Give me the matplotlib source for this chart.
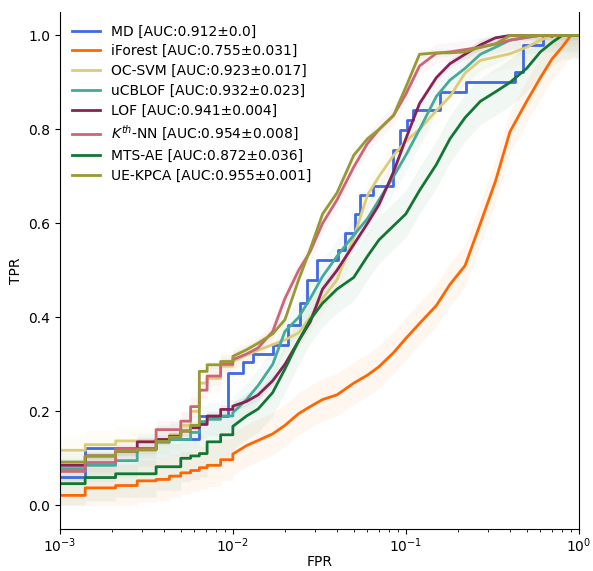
import matplotlib.pyplot as plt
import numpy as np

# shared FPR grid for the averaged curves
fpr_grid = [0.001, 0.0014, 0.0021, 0.0028, 0.0036, 0.0043, 0.005, 0.0057, 0.0064, 0.0071,
            0.0085, 0.01, 0.012, 0.014, 0.017, 0.02, 0.024, 0.028, 0.033, 0.04,
            0.05, 0.06, 0.07, 0.085, 0.1, 0.12, 0.15, 0.18, 0.22, 0.27,
            0.33, 0.4, 0.5, 0.6, 0.7, 0.8, 0.9, 1.0]

tpr_iforest = [0.021, 0.037, 0.042, 0.052, 0.055, 0.062, 0.069, 0.074, 0.08, 0.085,
               0.097, 0.109, 0.127, 0.138, 0.152, 0.17, 0.195, 0.21, 0.225, 0.235,
               0.26, 0.277, 0.295, 0.325, 0.355, 0.387, 0.425, 0.47, 0.51, 0.60,
               0.69, 0.795, 0.86, 0.91, 0.95, 0.975, 1.0, 1.0]
tpr_ocsvm = [0.117, 0.129, 0.137, 0.137, 0.14, 0.15, 0.17, 0.20, 0.26, 0.27,
             0.296, 0.306, 0.32, 0.33, 0.342, 0.352, 0.367, 0.40, 0.44, 0.48,
             0.57, 0.66, 0.70, 0.745, 0.775, 0.80, 0.84, 0.87, 0.92, 0.947,
             0.954, 0.961, 0.975, 0.99, 1.0, 1.0, 1.0, 1.0]
tpr_ucblof = [0.078, 0.085, 0.095, 0.118, 0.134, 0.14, 0.14, 0.155, 0.178, 0.183,
              0.19, 0.197, 0.225, 0.255, 0.30, 0.37, 0.40, 0.44, 0.487, 0.53,
              0.575, 0.61, 0.65, 0.70, 0.745, 0.80, 0.87, 0.905, 0.93, 0.96,
              0.975, 0.99, 0.996, 1.0, 1.0, 1.0, 1.0, 1.0]
tpr_lof = [0.085, 0.105, 0.115, 0.135, 0.14, 0.147, 0.158, 0.165, 0.172, 0.19,
           0.204, 0.211, 0.221, 0.235, 0.265, 0.30, 0.35, 0.39, 0.46, 0.50,
           0.555, 0.60, 0.64, 0.71, 0.78, 0.855, 0.91, 0.94, 0.96, 0.98,
           0.995, 1.0, 1.0, 1.0, 1.0, 1.0, 1.0, 1.0]
tpr_knn = [0.072, 0.091, 0.12, 0.12, 0.161, 0.161, 0.179, 0.21, 0.245, 0.275,
           0.30, 0.31, 0.322, 0.335, 0.37, 0.44, 0.50, 0.54, 0.60, 0.65,
           0.72, 0.77, 0.80, 0.83, 0.875, 0.935, 0.962, 0.965, 0.97, 0.975,
           0.982, 0.99, 0.996, 1.0, 1.0, 1.0, 1.0, 1.0]
tpr_mtsae = [0.046, 0.059, 0.067, 0.067, 0.082, 0.082, 0.10, 0.105, 0.11, 0.135,
             0.15, 0.168, 0.19, 0.205, 0.24, 0.29, 0.35, 0.395, 0.43, 0.46,
             0.485, 0.53, 0.565, 0.595, 0.62, 0.67, 0.725, 0.78, 0.825, 0.86,
             0.88, 0.90, 0.93, 0.965, 0.985, 1.0, 1.0, 1.0]
tpr_uekpca = [0.092, 0.105, 0.115, 0.118, 0.136, 0.145, 0.158, 0.17, 0.285, 0.299,
              0.306, 0.317, 0.331, 0.345, 0.365, 0.395, 0.48, 0.545, 0.62, 0.665,
              0.745, 0.78, 0.80, 0.83, 0.89, 0.96, 0.963, 0.963, 0.965, 0.975,
              0.982, 1.0, 1.0, 1.0, 1.0, 1.0, 1.0, 1.0]

# MD has its own (deterministic) steps
fpr_md = [0.001, 0.0014, 0.0036, 0.0064, 0.0094, 0.0115, 0.0131, 0.0171, 0.0209, 0.0244,
          0.0267, 0.0305, 0.0406, 0.0444, 0.0507, 0.0542, 0.065, 0.0845, 0.092, 0.101,
          0.11, 0.157, 0.224, 0.426, 0.477, 0.622, 0.7, 1.0]
tpr_md = [0.061, 0.121, 0.14, 0.19, 0.282, 0.306, 0.321, 0.342, 0.384, 0.43,
          0.48, 0.522, 0.544, 0.579, 0.621, 0.66, 0.679, 0.756, 0.798, 0.82,
          0.841, 0.88, 0.90, 0.922, 0.979, 0.998, 1.0, 1.0]

labels = ["MD [AUC:0.912±0.0]", "iForest [AUC:0.755±0.031]", "OC-SVM [AUC:0.923±0.017]",
          "uCBLOF [AUC:0.932±0.023]", "LOF [AUC:0.941±0.004]", "$K^{th}$-NN [AUC:0.954±0.008]",
          "MTS-AE [AUC:0.872±0.036]", "UE-KPCA [AUC:0.955±0.001]"]
colors = ["#4169e1", "#ff6600", "#ddcc77", "#44aa99", "#882255", "#cc6677", "#117733", "#999933"]
tpr_std = [0.0, 0.045, 0.03, 0.035, 0.01, 0.02, 0.05, 0.008]

curves = [(fpr_md, tpr_md), (fpr_grid, tpr_iforest), (fpr_grid, tpr_ocsvm), (fpr_grid, tpr_ucblof),
          (fpr_grid, tpr_lof), (fpr_grid, tpr_knn), (fpr_grid, tpr_mtsae), (fpr_grid, tpr_uekpca)]


def roc_path(x, y, step_until):
    # stairs where the FPR grid is coarse, straight segments where it is fine
    px, py = [], []
    for i in range(len(x)):
        px.append(x[i])
        py.append(y[i])
        if i + 1 < len(x) and x[i + 1] <= step_until:
            px.append(x[i + 1])
            py.append(y[i])
    return np.array(px), np.array(py)


fig, ax = plt.subplots(figsize=(5.93, 5.71), dpi=100)
fig.subplots_adjust(left=0.101, right=0.976, bottom=0.074, top=0.979)

for i, ((x, y), lab, c, s) in enumerate(zip(curves, labels, colors, tpr_std)):
    lim = 2.0 if i == 0 else 0.01
    px, py = roc_path(x, y, lim)
    if s > 0:
        ax.fill_between(px, np.clip(py - s, 0, 1), np.clip(py + s, 0, 1),
                        color=c, alpha=0.06, linewidth=0)
    ax.plot(px, py, color=c, linewidth=2, label=lab)

ax.set_xscale("log")
ax.set_xlim(1e-3, 1)
ax.set_ylim(-0.05, 1.05)
ax.set_yticks(np.arange(0, 1.01, 0.2))
ax.spines["top"].set_visible(False)
ax.tick_params(axis="x", pad=2)
ax.set_xlabel("FPR", labelpad=0)
ax.set_ylabel("TPR")
ax.legend(loc="upper left", frameon=False, borderaxespad=0.5, labelspacing=0.42)

plt.savefig("out.png", dpi=100)
